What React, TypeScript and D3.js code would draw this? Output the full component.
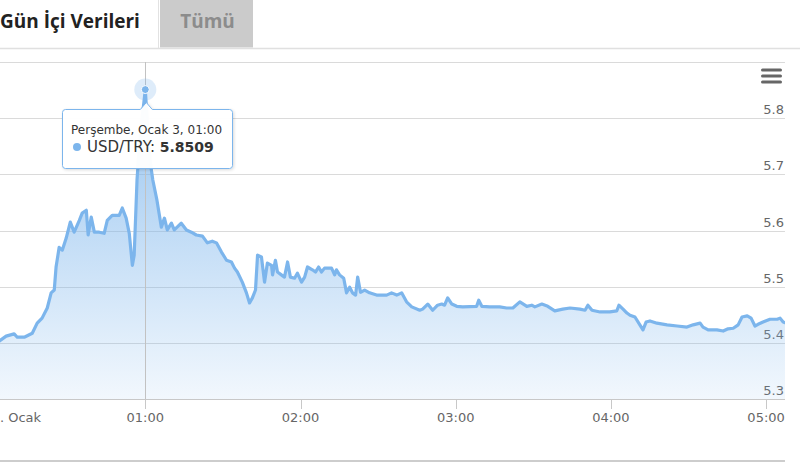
import React from "react";
import * as d3 from "d3";

// minutes after 00:00 (3 Ocak)
const times = [
  0, 3.5, 6.2, 9.3, 10.5, 13.2, 16.3, 18.2, 20.1, 22.1, 23.6, 24.8, 25.5, 26.7, 27.9, 29.4,
  31.0, 32.5, 34.5, 35.6, 37.2, 37.9, 39.1, 40.3, 42.2, 44.1, 45.3, 47.2, 49.9, 51.1, 52.6,
  53.8, 55.0, 55.7, 56.8, 57.6, 58.7, 60, 61.0, 61.8, 62.9, 64.5, 66.2, 67.4, 68.5, 70.1,
  71.2, 73.9, 75.9, 77.8, 79.7, 82.1, 84.0, 85.9, 87.5, 89.4, 91.4, 93.3, 94.5, 95.6, 97.5,
  99.1, 100.3, 101.4, 102.6, 103.4, 104.9, 106.1, 107.2, 108.8, 109.2, 110.3, 111.1, 112.6,
  113.8, 115.0, 116.1, 117.7, 118.8, 120.4, 121.6, 122.7, 124.6, 125.8, 127.0, 128.1, 129.3,
  132.0, 133.2, 133.9, 135.1, 136.7, 137.8, 139.0, 140.1, 141.3, 142.1, 143.2, 144.8, 146.7,
  149.4, 153.3, 155.2, 157.2, 159.1, 161.0, 163.0, 166.1, 167.2, 169.2, 171.1, 173.0, 174.6,
  175.7, 176.9, 178.5, 180.4, 182.7, 188.1, 188.9, 190.1, 193.2, 197.0, 199.7, 202.1, 204.8,
  207.5, 209.4, 210.6, 213.3, 215.6, 218.3, 221.4, 224.2, 228.0, 230.0, 231.1, 232.7, 235.8,
  239.6, 242.3, 243.1, 244.7, 246.2, 247.4, 249.3, 251.2, 252.4, 253.6, 255.1, 257.8, 261.7,
  265.6, 269.4, 271.8, 274.5, 275.6, 277.6, 281.0, 283.4, 285.3, 287.3, 289.2, 290.7, 292.7,
  294.2, 295.7, 296.9, 298.8, 301.5, 304.3, 305.4, 306.6, 307.3,
];

const values = [
  5.402, 5.403, 5.412, 5.416, 5.41, 5.41, 5.417, 5.435, 5.444, 5.462, 5.489, 5.494, 5.535, 5.57, 5.565, 5.586,
  5.615, 5.597, 5.618, 5.631, 5.636, 5.592, 5.624, 5.597, 5.597, 5.595, 5.618, 5.627, 5.627, 5.64, 5.622,
  5.595, 5.538, 5.556, 5.69, 5.743, 5.797, 5.8509, 5.775, 5.725, 5.69, 5.654, 5.606, 5.622, 5.601, 5.613,
  5.601, 5.613, 5.601, 5.597, 5.592, 5.59, 5.578, 5.581, 5.578, 5.562, 5.547, 5.544, 5.533, 5.526, 5.508,
  5.489, 5.471, 5.48, 5.494, 5.556, 5.553, 5.508, 5.542, 5.538, 5.521, 5.547, 5.526, 5.521,
  5.517, 5.544, 5.517, 5.515, 5.524, 5.508, 5.517, 5.535, 5.53, 5.526, 5.535, 5.526, 5.533,
  5.533, 5.521, 5.53, 5.521, 5.515, 5.489, 5.499, 5.489, 5.485, 5.517, 5.49, 5.494, 5.489,
  5.485, 5.485, 5.489, 5.485, 5.489, 5.473, 5.464, 5.458, 5.46, 5.469, 5.458, 5.467, 5.469,
  5.467, 5.48, 5.469, 5.465, 5.464, 5.465, 5.476, 5.465, 5.464, 5.464, 5.462, 5.462, 5.473,
  5.465, 5.467, 5.464, 5.469, 5.465, 5.457, 5.46, 5.462, 5.46, 5.458, 5.467, 5.458, 5.455,
  5.455, 5.457, 5.467, 5.46, 5.453, 5.449, 5.446, 5.432, 5.423, 5.437, 5.439, 5.435, 5.432,
  5.43, 5.428, 5.432, 5.435, 5.428, 5.423, 5.423, 5.421, 5.425, 5.426, 5.432, 5.446, 5.448,
  5.444, 5.43, 5.433, 5.437, 5.442, 5.442, 5.444, 5.437, 5.436,
];

const yTicks = [5.3, 5.4, 5.5, 5.6, 5.7, 5.8, 5.9];
const yLabelTicks = [5.3, 5.4, 5.5, 5.6, 5.7, 5.8];
const xTickMinutes = [0, 60, 120, 180, 240, 300];
const xTickLabels = ["3. Ocak", "01:00", "02:00", "03:00", "04:00", "05:00"];

const tabLabels = ["Gün İçi Verileri", "Tümü"];
const seriesName = "USD/TRY";
const hoverTime = 60;
const hoverTitle = "Perşembe, Ocak 3, 01:00";

const W = 800;
const H = 463;
const COLOR = "#7cb5ec";
const FONT = "'DejaVu Sans', Verdana, sans-serif";

export default function App() {
  const x = d3.scaleLinear().domain([0, 300]).range([-9.9, 766.1]);
  const y = d3.scaleLinear().domain([5.3, 5.9]).range([399, 62]);
  const plotLeft = x(0) + 1.6;
  const plotRight = x(d3.max(times) as number);
  const plotTop = y(5.9);
  const plotBottom = y(5.3);

  const data = times.map((t, i) => ({ t, v: values[i] }));
  const line = d3
    .line<{ t: number; v: number }>()
    .x((d) => x(d.t))
    .y((d) => y(d.v));
  const area = d3
    .area<{ t: number; v: number }>()
    .x((d) => x(d.t))
    .y0(plotBottom)
    .y1((d) => y(d.v));

  const hi = times.indexOf(hoverTime);
  const hx = x(times[hi]);
  const hy = y(values[hi]);

  // tooltip geometry
  const tipX = 62.5;
  const tipY = 109.5;
  const tipW = 170;
  const tipH = 59;
  const r = 3;
  const ax = hx + 1;
  const tipPath = [
    `M${tipX + r},${tipY}`,
    `L${ax - 6},${tipY}`,
    `L${ax},${tipY - 7}`,
    `L${ax + 6},${tipY}`,
    `L${tipX + tipW - r},${tipY}`,
    `Q${tipX + tipW},${tipY} ${tipX + tipW},${tipY + r}`,
    `L${tipX + tipW},${tipY + tipH - r}`,
    `Q${tipX + tipW},${tipY + tipH} ${tipX + tipW - r},${tipY + tipH}`,
    `L${tipX + r},${tipY + tipH}`,
    `Q${tipX},${tipY + tipH} ${tipX},${tipY + tipH - r}`,
    `L${tipX},${tipY + r}`,
    `Q${tipX},${tipY} ${tipX + r},${tipY}`,
    "Z",
  ].join(" ");

  return (
    <svg
      width={W}
      height={H}
      style={{ position: "absolute", left: 0, top: 0, background: "#fff" }}
    >
      <defs>
        <linearGradient id="areaGrad" gradientUnits="userSpaceOnUse" x1="0" y1={plotTop} x2="0" y2={plotBottom}>
          <stop offset="0" stopColor={COLOR} stopOpacity={0.85} />
          <stop offset="1" stopColor={COLOR} stopOpacity={0.1} />
        </linearGradient>
        <clipPath id="plotClip">
          <rect x={plotLeft} y={plotTop - 40} width={plotRight - plotLeft} height={plotBottom - plotTop + 40} />
        </clipPath>
        <filter id="tipShadow" x="-20%" y="-20%" width="140%" height="150%">
          <feDropShadow dx="1" dy="1" stdDeviation="1.5" floodColor="#000" floodOpacity="0.15" />
        </filter>
      </defs>

      {/* tabs */}
      <rect x={0} y={0} width={158} height={48} fill="#fff" />
      <line x1={158.5} y1={0} x2={158.5} y2={48} stroke="#e2e2e2" />
      <rect x={160} y={0} width={93} height={47.5} fill="#cbcbcb" />
      <line x1={0} y1={48.5} x2={W} y2={48.5} stroke="#e0e0e0" strokeWidth={1.5} />
      <text x={0} y={28} fontFamily="'Open Sans', sans-serif" fontWeight={700} fontSize={19} fill="#222">
        {tabLabels[0]}
      </text>
      <text x={207.5} y={28} textAnchor="middle" fontFamily="'Open Sans', sans-serif" fontWeight={700} fontSize={19} fill="#8c8c8c">
        {tabLabels[1]}
      </text>

      {/* grid */}
      {yTicks.map((t) => (
        <line key={t} x1={plotLeft} x2={plotRight} y1={Math.round(y(t)) + 0.5} y2={Math.round(y(t)) + 0.5} stroke="#dadada" />
      ))}
      {yLabelTicks.map((t) => (
        <text key={t} x={784} y={y(t) - 4} textAnchor="end" fontFamily={FONT} fontSize={13} fill="#666">
          {t.toFixed(1)}
        </text>
      ))}

      {/* x axis */}
      <line x1={plotLeft} x2={plotRight} y1={399.5} y2={399.5} stroke="#c8c8c8" />
      {xTickMinutes.map((m) => (
        <line key={m} x1={Math.round(x(m)) + 0.5} x2={Math.round(x(m)) + 0.5} y1={399} y2={409} stroke="#c8c8c8" />
      ))}
      {xTickMinutes.map((m, i) => (
        <text
          key={m}
          x={i === 0 ? plotLeft : x(m)}
          y={422}
          textAnchor={i === 0 ? "start" : "middle"}
          fontFamily={FONT}
          fontSize={13}
          fill="#666"
        >
          {xTickLabels[i]}
        </text>
      ))}

      {/* series */}
      <g clipPath="url(#plotClip)">
        <path d={area(data) || ""} fill="url(#areaGrad)" />
        <line x1={Math.round(hx) + 0.5} x2={Math.round(hx) + 0.5} y1={plotTop} y2={plotBottom} stroke="#c2c2c2" />
        <path d={line(data) || ""} fill="none" stroke={COLOR} strokeWidth={3.2} strokeLinejoin="round" strokeLinecap="round" />
      </g>

      {/* hover marker */}
      <circle cx={hx} cy={hy} r={11} fill={COLOR} opacity={0.25} />
      <circle cx={hx} cy={hy} r={4} fill={COLOR} stroke="#fff" strokeWidth={1} />

      {/* tooltip */}
      <path d={tipPath} fill="#fff" fillOpacity={0.97} stroke={COLOR} strokeWidth={1} filter="url(#tipShadow)" />
      <text x={71} y={134} fontFamily={FONT} fontSize={12} fill="#333">
        {hoverTitle}
      </text>
      <circle cx={77} cy={147} r={4} fill={COLOR} />
      <text x={87} y={152} fontFamily={FONT} fontSize={15} fill="#333">
        <tspan>{seriesName}: </tspan>
        <tspan fontWeight={700} fontSize={14}>{values[hi].toFixed(4)}</tspan>
      </text>

      {/* menu icon */}
      {[70, 76, 82].map((yy) => (
        <rect key={yy} x={761} y={yy - 1.5} width={21} height={3} rx={1.5} fill="#666" />
      ))}

      {/* bottom line */}
      <line x1={0} x2={plotRight} y1={461} y2={461} stroke="#bdbdbd" strokeWidth={1.5} />
    </svg>
  );
}
